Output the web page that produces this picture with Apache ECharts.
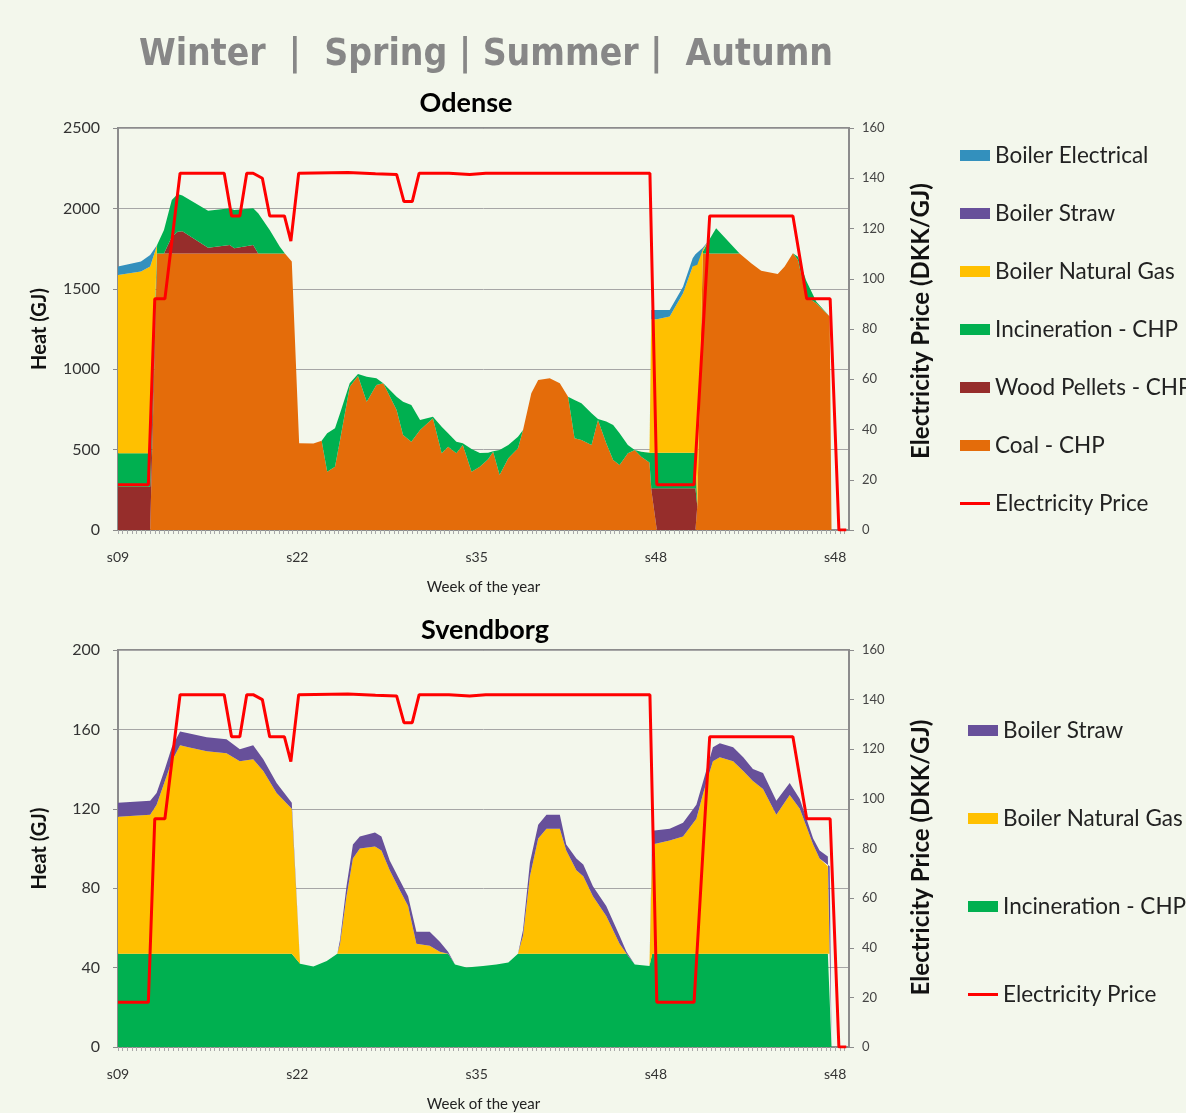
<!DOCTYPE html>
<html>
<head>
<meta charset="utf-8">
<script src="https://cdn.jsdelivr.net/npm/echarts@6/dist/echarts.min.js"></script>
<style>
  html, body { margin: 0; padding: 0; background: #F3F7EC; }
  #chart { width: 1186px; height: 1113px; }
</style>
</head>
<body>
<div id="chart"></div>
<script>
// x positions are in axis steps (3 steps per week, label every 39 steps)
const weekLabels = ["s09", "s22", "s35", "s48", "s48"];

// electricity price, same curve in both panels
const priceStep = [0, 6.6, 8, 10.2, 13.5, 23.1, 24.7, 26.5, 28, 29.4, 31.4, 33, 36.2, 37.6, 39.3, 50, 56, 60.6, 62.2, 64, 65.5, 72, 76.5, 80, 115.7, 117.2, 125.3, 128.7, 146.8, 149.8, 154.9, 156.8, 158.4];
const priceValue = [18, 18, 92, 92, 142, 142, 125, 125, 142, 142, 140, 125, 125, 115, 142, 142.3, 141.8, 141.5, 130.7, 130.7, 142, 142, 141.5, 142, 142, 18, 18, 125, 125, 92, 92, 0, 0];

// Odense heat production (GJ)
const odStep = [0, 5, 7, 8.5, 10, 11.7, 13, 14, 19.6, 24.3, 25.3, 29.4, 30.5, 33, 35.2, 36.3, 37.8, 39.4, 42.5, 44.3, 45.5, 47.2, 48.3, 50.4, 52.2, 54.1, 56.2, 57.7, 60.6, 62, 63.8, 65.7, 68.5, 70.4, 71.8, 73.6, 75, 76.9, 78.7, 80.5, 81.6, 83, 84.9, 87, 88.1, 89.9, 91.4, 93.9, 96.1, 97.9, 99.3, 100.8, 103, 104.4, 106.2, 107.7, 109.1, 110.9, 112.4, 113.8, 115.6, 116, 117.2, 120, 122.9, 125, 125.6, 126, 127.2, 128.5, 130.1, 135.2, 137.8, 139.9, 143.5, 145, 146.8, 147.9, 149.7, 151.9, 154.8, 155.2, 159];
const odCoal = [0, 0, 0, 1720, 1720, 1720, 1720, 1720, 1720, 1720, 1720, 1720, 1720, 1720, 1720, 1720, 1669, 539, 538, 555, 363, 394, 560, 891, 958, 798, 902, 912, 746, 591, 549, 622, 695, 477, 518, 477, 529, 363, 394, 440, 487, 342, 446, 508, 622, 850, 933, 943, 912, 829, 570, 560, 529, 684, 539, 435, 404, 477, 498, 456, 420, 250, 0, 0, 0, 0, 0, 150, 1720, 1720, 1720, 1720, 1658, 1613, 1592, 1638, 1721, 1679, 1450, 1410, 1327, 0, 0];
const odWood = [269, 269, 269, 0, 0, 104, 135, 138, 36, 52, 32, 52, 0, 0, 0, 0, 0, 0, 0, 0, 0, 0, 0, 0, 0, 0, 0, 0, 0, 0, 0, 0, 0, 0, 0, 0, 0, 0, 0, 0, 0, 0, 0, 0, 0, 0, 0, 0, 0, 0, 0, 0, 0, 0, 0, 0, 0, 0, 0, 0, 0, 10, 259, 259, 259, 259, 259, 0, 0, 0, 0, 0, 0, 0, 0, 0, 0, 0, 0, 0, 0, 0, 0];
const odIncin = [208, 208, 208, 52, 146, 228, 235, 222, 230, 229, 238, 229, 250, 146, 42, 0, 0, 0, 0, 0, 238, 238, 166, 21, 12, 155, 41, 0, 83, 207, 228, 62, 10, 165, 83, 72, 10, 140, 85, 40, 3, 156, 83, 72, 0, 0, 0, 0, 0, 0, 238, 228, 197, 6, 135, 218, 197, 52, 0, 31, 60, 220, 221, 221, 221, 221, 221, 0, 10, 80, 156, 0, 0, 0, 0, 0, 0, 21, 100, 10, 0, 0, 0];
const odGas = [1109, 1130, 1161, 0, 0, 0, 0, 0, 0, 0, 0, 0, 0, 0, 0, 0, 0, 0, 0, 0, 0, 0, 0, 0, 0, 0, 0, 0, 0, 0, 0, 0, 0, 0, 0, 0, 0, 0, 0, 0, 0, 0, 0, 0, 0, 0, 0, 0, 0, 0, 0, 0, 0, 0, 0, 0, 0, 0, 0, 0, 0, 830, 830, 847, 992, 1158, 1180, 1500, 15, 0, 0, 0, 0, 0, 0, 0, 0, 0, 0, 0, 0, 0, 0];
const odElec = [52, 62, 72, 0, 0, 0, 0, 0, 0, 0, 0, 0, 0, 0, 0, 0, 0, 0, 0, 0, 0, 0, 0, 0, 0, 0, 0, 0, 0, 0, 0, 0, 0, 0, 0, 0, 0, 0, 0, 0, 0, 0, 0, 0, 0, 0, 0, 0, 0, 0, 0, 0, 0, 0, 0, 0, 0, 0, 0, 0, 0, 58, 58, 41, 41, 52, 55, 55, 10, 0, 0, 0, 0, 0, 0, 0, 0, 0, 0, 0, 0, 0, 0];

// Svendborg heat production (GJ)
const svStep = [0, 7, 8.4, 10.2, 11.7, 13.5, 15.3, 19.3, 23.6, 26.5, 29.4, 31.6, 34.5, 37.8, 39.6, 42.5, 45.4, 47.7, 48.3, 49.7, 51.1, 52.6, 55.9, 57.3, 59.1, 61.3, 63.1, 64.9, 67.8, 70, 71.8, 73.3, 75.8, 79.4, 82.3, 84.9, 87, 88.1, 89.6, 91.4, 93.2, 96.1, 97.5, 99.7, 101.2, 103.3, 106.2, 109.1, 110.6, 112.4, 115.6, 116.2, 120, 122.9, 125.8, 127.3, 129.4, 130.9, 133.8, 136, 138.1, 140.3, 143.2, 146.1, 148.3, 151.2, 152.6, 154.4, 154.8, 155.2, 159];
const svIncin = [47, 47, 47, 47, 47, 47, 47, 47, 47, 47, 47, 47, 47, 47, 42, 40.5, 43.3, 47, 47, 47, 47, 47, 47, 47, 47, 47, 47, 47, 47, 47, 47, 41.6, 40.1, 40.8, 41.6, 42.6, 47, 47, 47, 47, 47, 47, 47, 47, 47, 47, 47, 47, 47, 41.6, 40.8, 47, 47, 47, 47, 47, 47, 47, 47, 47, 47, 47, 47, 47, 47, 47, 47, 47, 47, 0, 0];
const svGas = [69, 70, 75, 87, 97, 105, 104, 102, 101, 97, 98, 92, 81, 73, 0, 0, 0, 0, 5, 29, 48, 53, 54, 52, 42, 32, 24, 5, 4, 1, 0, 0, 0, 0, 0, 0, 0, 9, 39, 58, 63, 63, 52, 42, 39, 29, 19, 5, 0, 0, 0, 55, 57, 59, 68, 81, 97, 99, 97, 92, 87, 83, 70, 80, 73, 55, 48, 44, 44, 0, 0];
const svStraw = [7, 7, 6, 6, 7, 7, 7, 7, 7, 6, 7, 6, 5, 3, 0, 0, 0, 0, 2, 5, 7, 6, 7, 7, 5, 5, 5, 6, 7, 5, 1, 0, 0, 0, 0, 0, 0, 3, 7, 7, 7, 7, 3, 6, 6, 5, 5, 4, 1, 0, 0, 7, 6, 7, 7, 6, 7, 7, 7, 7, 6, 8, 7, 6, 5, 3, 4, 5, 5, 0, 0];

const colors = {
  "Boiler Electrical": "#3390BD",
  "Boiler Straw": "#67509A",
  "Boiler Natural Gas": "#FFC000",
  "Incineration - CHP": "#00B050",
  "Wood Pellets - CHP": "#962D2B",
  "Coal - CHP": "#E46C0A"
};
const font = "Lato, 'Open Sans', sans-serif";

// value first, step second: echarts stacks the first numeric column
function pairs(xs, ys) {
  return xs.map((x, i) => [ys[i], x]);
}
function areaSeries(name, xs, ys, panel) {
  return {
    name: name,
    type: "line",
    xAxisIndex: panel,
    yAxisIndex: panel * 2,
    stack: "heat" + panel,
    encode: { x: 1, y: 0 },
    data: pairs(xs, ys),
    symbol: "none",
    lineStyle: { width: 0 },
    areaStyle: { color: colors[name], opacity: 1 },
    itemStyle: { color: colors[name] },
    z: 2
  };
}
function priceSeries(panel) {
  return {
    name: "Electricity Price",
    type: "line",
    xAxisIndex: panel,
    yAxisIndex: panel * 2 + 1,
    encode: { x: 1, y: 0 },
    data: pairs(priceStep, priceValue),
    symbol: "none",
    lineStyle: { color: "#FF0000", width: 3 },
    itemStyle: { color: "#FF0000" },
    z: 5
  };
}
function weekLabel(v) {
  return v % 39 === 0 ? weekLabels[v / 39] : "";
}
function xAxisFor(panel) {
  return {
    gridIndex: panel,
    type: "value",
    min: 0,
    max: 159,
    interval: 1,
    position: "bottom",
    axisLine: { show: true, lineStyle: { color: "#8C8C8C", width: 2 } },
    axisTick: { show: true, length: 4, lineStyle: { color: "#A8A8A8" } },
    splitLine: { show: false },
    axisLabel: { formatter: weekLabel, fontSize: 14, color: "#333", margin: 20, fontFamily: font, showMaxLabel: false },
    name: "Week of the year",
    nameLocation: "middle",
    nameGap: 50,
    nameTextStyle: { fontSize: 15, color: "#222", fontFamily: font }
  };
}
function heatAxis(panel, max, step) {
  return {
    gridIndex: panel,
    type: "value",
    min: 0,
    max: max,
    interval: step,
    position: "left",
    axisLine: { show: true, lineStyle: { color: "#8C8C8C", width: 2 } },
    axisTick: { show: true, length: 5, lineStyle: { color: "#8C8C8C" } },
    splitLine: { show: true, lineStyle: { color: "#A6A6A6", width: 1 } },
    axisLabel: { fontSize: 16, color: "#333", margin: 18, fontFamily: font, formatter: (v) => String(v) },
    name: "Heat (GJ)",
    nameLocation: "middle",
    nameGap: 68,
    nameTextStyle: { fontSize: 20, fontWeight: "bold", color: "#111", fontFamily: font }
  };
}
function priceAxis(panel, namePad) {
  return {
    gridIndex: panel,
    type: "value",
    min: 0,
    max: 160,
    interval: 20,
    position: "right",
    axisLine: { show: true, lineStyle: { color: "#8C8C8C", width: 2 } },
    axisTick: { show: true, length: 5, lineStyle: { color: "#8C8C8C" } },
    splitLine: { show: false },
    axisLabel: { fontSize: 13, color: "#444", margin: 13, fontFamily: font },
    name: "Electricity Price (DKK/GJ)",
    nameLocation: "middle",
    nameGap: 60,
    nameRotate: 90,
    nameTextStyle: { fontSize: 24, fontWeight: "bold", color: "#111", fontFamily: font, padding: namePad }
  };
}
function legendItems(names) {
  return names.map((n) =>
    n === "Electricity Price" ? { name: n, icon: "path://M0,0H30V3H0Z" } : { name: n, icon: "rect" }
  );
}

let myChart = echarts.init(document.getElementById("chart"), null, { renderer: "canvas" }),
  option;

option = {
  backgroundColor: "#F3F7EC",
  animation: false,
  graphic: [
    { type: "text", x: 486, y: 55, style: { text: "Winter  |  Spring | Summer |  Autumn", align: "center", verticalAlign: "middle", font: "bold 37px 'DejaVu Sans Condensed', sans-serif", fill: "#878787" } },
    { type: "text", x: 466, y: 103, style: { text: "Odense", align: "center", verticalAlign: "middle", font: "bold 27px Lato, sans-serif", fill: "#000" } },
    { type: "text", x: 485, y: 630, style: { text: "Svendborg", align: "center", verticalAlign: "middle", font: "bold 27px Lato, sans-serif", fill: "#000" } }
  ],
  legend: [
    {
      orient: "vertical",
      left: 955,
      top: 139,
      itemWidth: 30,
      itemHeight: 11,
      itemGap: 35,
      symbolKeepAspect: true,
      selectedMode: false,
      textStyle: { fontSize: 22.5, lineHeight: 23, color: "#222", fontFamily: font },
      data: legendItems(["Boiler Electrical", "Boiler Straw", "Boiler Natural Gas", "Incineration - CHP", "Wood Pellets - CHP", "Coal - CHP", "Electricity Price"])
    },
    {
      orient: "vertical",
      left: 963,
      top: 714,
      itemWidth: 30,
      itemHeight: 11,
      itemGap: 65,
      symbolKeepAspect: true,
      selectedMode: false,
      textStyle: { fontSize: 22.5, lineHeight: 23, color: "#222", fontFamily: font },
      data: legendItems(["Boiler Straw", "Boiler Natural Gas", "Incineration - CHP", "Electricity Price"])
    }
  ],
  grid: [
    { left: 118, top: 128, width: 731, height: 402, show: true, borderColor: "#8C8C8C", borderWidth: 2, backgroundColor: "transparent" },
    { left: 118, top: 650, width: 731, height: 402, show: true, borderColor: "#8C8C8C", borderWidth: 2, backgroundColor: "transparent" }
  ],
  xAxis: [xAxisFor(0), xAxisFor(1)],
  yAxis: [heatAxis(0, 2500, 500), priceAxis(0, [0, 0, 0, 16]), heatAxis(1, 200, 40), priceAxis(1, [0, 18, 0, 0])],
  series: [
    areaSeries("Coal - CHP", odStep, odCoal, 0),
    areaSeries("Wood Pellets - CHP", odStep, odWood, 0),
    areaSeries("Incineration - CHP", odStep, odIncin, 0),
    areaSeries("Boiler Natural Gas", odStep, odGas, 0),
    areaSeries("Boiler Electrical", odStep, odElec, 0),
    priceSeries(0),
    areaSeries("Incineration - CHP", svStep, svIncin, 1),
    areaSeries("Boiler Natural Gas", svStep, svGas, 1),
    areaSeries("Boiler Straw", svStep, svStraw, 1),
    priceSeries(1)
  ]
};

if (option && typeof option === "object") myChart.setOption(option);
window.addEventListener("resize", function () {
  myChart.resize();
});
</script>
</body>
</html>
